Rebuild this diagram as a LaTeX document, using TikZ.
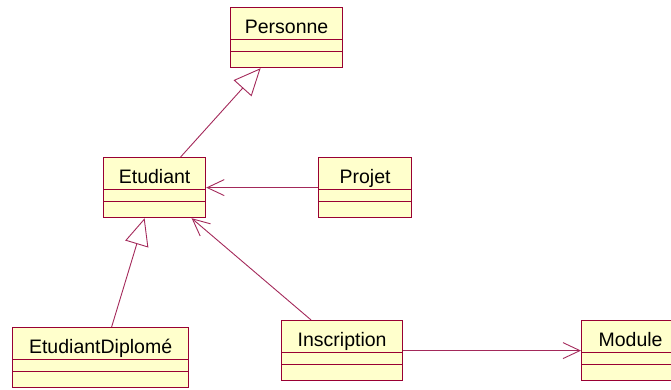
\documentclass[tikz,border=0pt]{standalone}
\usepackage{fontspec}
\setmainfont{Liberation Sans}
\usetikzlibrary{arrows.meta}
\definecolor{umlborder}{HTML}{990033}
\definecolor{umlline}{HTML}{A3295A}
\definecolor{umlfill}{HTML}{FFFFCC}
\begin{document}
\begin{tikzpicture}[x=1pt, y=-1pt,
                    every node/.style={font=\fontsize{19.5}{21}\selectfont},
                    classe/.style={draw=umlborder, fill=umlfill, line width=1.2pt,
                                   inner sep=0pt, anchor=north west,
                                   text height=26pt, text depth=34pt,
                                   path picture={
                                     \draw[umlborder, line width=1pt]
                                       ([yshift=-32pt]path picture bounding box.north west)
                                       -- ([yshift=-32pt]path picture bounding box.north east)
                                       ([yshift=-44pt]path picture bounding box.north west)
                                       -- ([yshift=-44pt]path picture bounding box.north east);}},
                    lien/.style={draw=umlline, line width=0.9pt},
                    herite/.style={lien, -{Triangle[open, length=27pt, width=24pt]}},
                    assoc/.style={lien, -{Straight Barb[length=17pt, width=16pt]}}]
      \useasboundingbox (0, 0) rectangle (671, 389);
      \node[classe, minimum width=112pt] (personne) at (230, 7) {Personne};
      \node[classe, minimum width=102pt] (etudiant) at (103, 157) {Etudiant};
      \node[classe, minimum width=93pt] (projet) at (318, 157) {Projet};
      \node[classe, minimum width=176pt] (diplome) at (12, 327) {EtudiantDiplomé};
      \node[classe, minimum width=121pt] (inscription) at (281, 320) {Inscription};
      \node[classe, minimum width=98pt] (module) at (581, 320) {Module};
      \draw[herite] ([xshift=26pt]etudiant.north) -- ([xshift=-26pt]personne.south);
      \draw[herite] ([xshift=11pt]diplome.north) -- ([xshift=-10pt]etudiant.south);
      \draw[assoc] (projet.west) -- (etudiant.east);
      \draw[assoc] ([xshift=-31pt]inscription.north) -- ([xshift=37pt]etudiant.south);
      \draw[assoc] (inscription.east) -- (module.west);
\end{tikzpicture}
\end{document}
